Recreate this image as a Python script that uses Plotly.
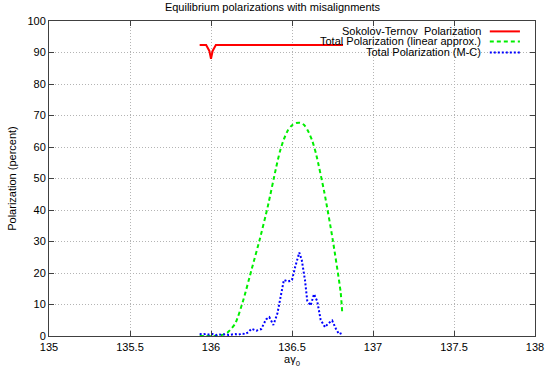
import plotly.graph_objects as go

# Sokolov-Ternov polarization
st_x = [135.93, 135.97, 135.99, 136.0, 136.01, 136.03, 136.1, 136.3, 136.5, 136.7, 136.815]
st_y = [92.4, 92.4, 90.5, 88.0, 90.5, 92.4, 92.4, 92.4, 92.4, 92.4, 92.4]

# Total polarization, linear approximation
lin_x = [135.93, 135.96, 136.0, 136.05, 136.1, 136.15, 136.2, 136.25, 136.3, 136.35,
         136.4, 136.425, 136.45, 136.475, 136.5, 136.525, 136.55, 136.575, 136.6, 136.625,
         136.65, 136.7, 136.75, 136.8, 136.81]
lin_y = [0.0, 0.0, 0.0, 0.1, 1.0, 4.0, 11.5, 21.0, 30.5, 41.0,
         53.0, 58.5, 62.5, 65.3, 66.9, 67.6, 67.7, 67.0, 65.0, 62.0,
         57.5, 45.5, 31.0, 14.0, 7.5]

# Total polarization, Monte Carlo
mc_x = [135.93, 135.95, 135.97, 135.99, 136.01, 136.03, 136.05, 136.07, 136.09, 136.11,
        136.13, 136.15, 136.17, 136.19, 136.21, 136.23, 136.25, 136.28, 136.31, 136.34,
        136.36, 136.385, 136.41, 136.426, 136.45, 136.477, 136.5, 136.52, 136.545, 136.56,
        136.58, 136.594, 136.615, 136.636, 136.656, 136.677, 136.704, 136.724, 136.748, 136.77,
        136.79, 136.81]
mc_y = [0.6, 0.5, 0.7, 0.4, 0.6, 0.3, 0.5, 0.4, 0.6, 0.3,
        0.5, 0.6, 0.4, 0.8, 0.6, 1.2, 2.3, 1.7, 2.2, 5.3,
        6.0, 3.5, 7.2, 12.0, 17.8, 17.3, 17.8, 22.0, 26.5, 24.2,
        17.8, 11.2, 9.7, 13.3, 11.0, 5.1, 2.8, 4.0, 4.9, 2.4,
        0.6, 1.0]

x_ticks = [135, 135.5, 136, 136.5, 137, 137.5, 138]
x_labels = ["135", "135.5", "136", "136.5", "137", "137.5", "138"]
y_ticks = list(range(0, 101, 10))

legend_names = ["Sokolov-Ternov  Polarization",
                "Total Polarization (linear approx.)",
                "Total Polarization (M-C)"]
colors = ["#ff0000", "#00ee00", "#0000ff"]
dashes = ["solid", "4px,3px", "2px,2px"]

FONT = "Liberation Sans, Arial, sans-serif"

fig = go.Figure()
fig.add_trace(go.Scatter(x=st_x, y=st_y, mode="lines", name=legend_names[0],
                         line=dict(color=colors[0], width=2, dash=dashes[0])))
fig.add_trace(go.Scatter(x=lin_x, y=lin_y, mode="lines", name=legend_names[1],
                         line=dict(color=colors[1], width=2, dash=dashes[1], shape="spline",
                                   smoothing=0.6)))
fig.add_trace(go.Scatter(x=mc_x, y=mc_y, mode="lines", name=legend_names[2],
                         line=dict(color=colors[2], width=2, dash=dashes[2])))

# gnuplot-style key: white box over the grid, right-aligned text, sample to the right
fig.add_shape(type="rect", xref="paper", yref="paper", x0=0.418, x1=1.0, y0=0.885, y1=1.0,
              fillcolor="white", line=dict(width=0), layer="between")
row_y = [0.967, 0.935, 0.9]
for name, c, d, ry in zip(legend_names, colors, dashes, row_y):
    fig.add_annotation(x=0.892, y=ry, xref="paper", yref="paper", text=name,
                       showarrow=False, xanchor="right", yanchor="middle",
                       font=dict(size=11, color="#000000", family=FONT))
    fig.add_shape(type="line", xref="paper", yref="paper", x0=0.907, x1=0.969,
                  y0=ry, y1=ry, line=dict(color=c, width=2, dash=d))

fig.update_layout(
    width=545, height=370,
    margin=dict(l=49, r=10, t=21, b=34, autoexpand=False),
    paper_bgcolor="white", plot_bgcolor="white",
    showlegend=False,
    font=dict(family=FONT, size=11, color="#000000"),
    title=dict(text="Equilibrium polarizations with misalignments", x=0.5, xanchor="center",
               y=0.982, yanchor="middle", font=dict(size=11, family=FONT)),
)
fig.update_xaxes(range=[135, 138], tickvals=x_ticks, ticktext=x_labels, automargin=False,
                 showgrid=True, gridcolor="#b4b4b4", griddash="1px,2px", gridwidth=1,
                 showline=True, linecolor="#404040", linewidth=1, mirror="ticks",
                 ticks="inside", ticklen=5, tickcolor="#404040", ticklabelstandoff=1,
                 zeroline=False,
                 title=dict(text="aγ<sub>0</sub>", standoff=2, font=dict(size=11)))
fig.update_yaxes(range=[0, 100], tickvals=y_ticks, automargin=False,
                 showgrid=True, gridcolor="#b4b4b4", griddash="1px,2px", gridwidth=1,
                 showline=True, linecolor="#404040", linewidth=1, mirror="ticks",
                 ticks="inside", ticklen=5, tickcolor="#404040",
                 zeroline=False,
                 title=dict(text="Polarization (percent)", standoff=8, font=dict(size=11)))

# drop the page's default body margin so the figure sits at the window corner
fig.write_html("out.html", config={"displayModeBar": False},
               post_script="document.body.style.margin='0';")
